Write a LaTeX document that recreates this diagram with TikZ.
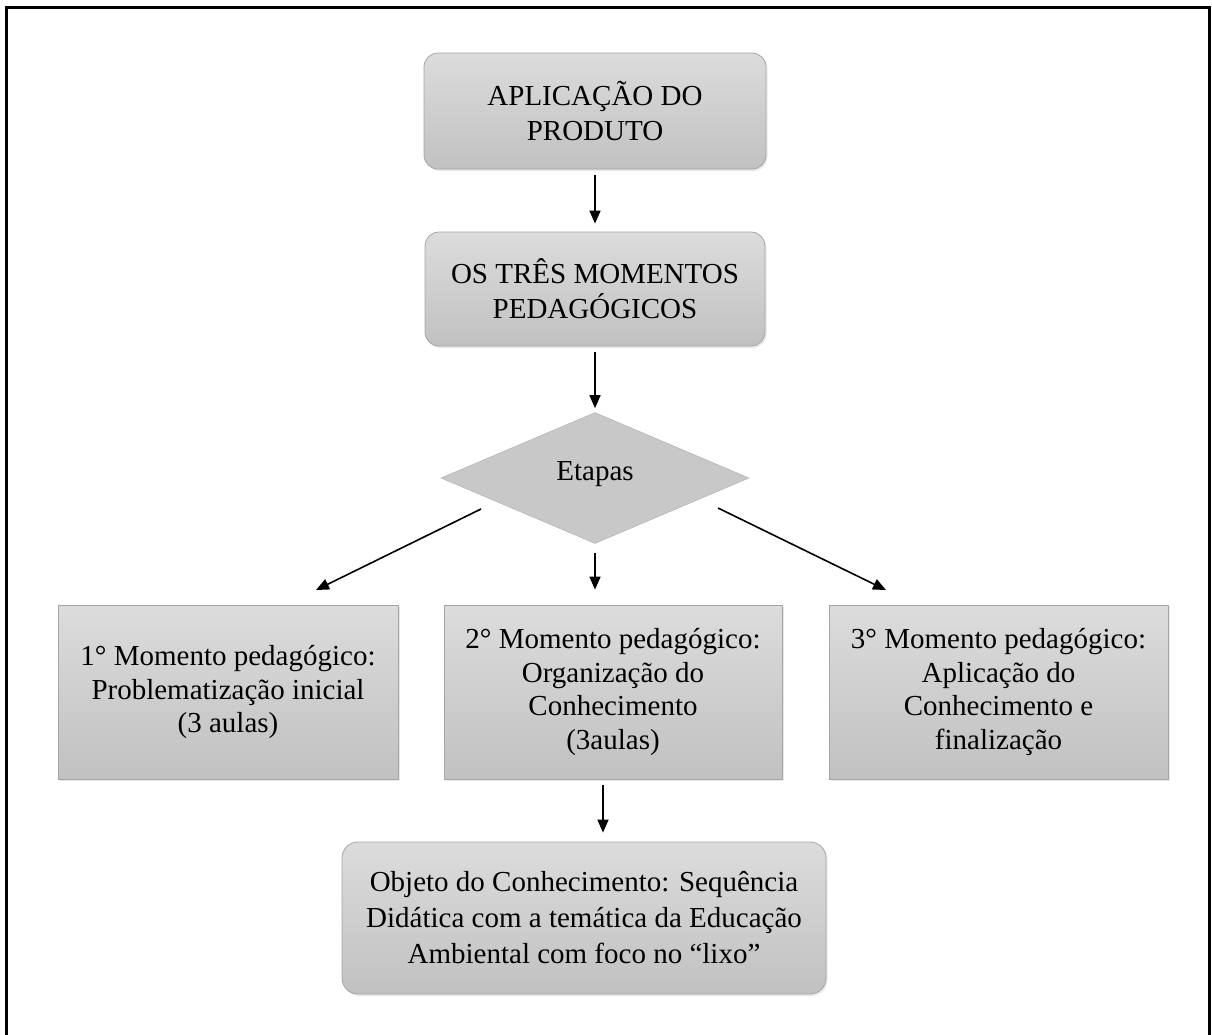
\documentclass[tikz,border=0pt]{standalone}
\usepackage{fontspec}
\setmainfont{Liberation Serif}
\usetikzlibrary{arrows.meta,shapes.geometric,shadows}
\definecolor{boxtop}{RGB}{220,220,220}
\definecolor{boxbot}{RGB}{193,193,193}
\definecolor{boxline}{RGB}{165,165,165}
\definecolor{diafill}{RGB}{200,200,200}
\begin{document}
\begin{tikzpicture}[x=1pt,y=-1pt,
  box/.style={draw=boxline, line width=0.8pt, top color=boxtop, bottom color=boxbot,
    align=center, inner sep=0pt,
    drop shadow={opacity=0.18, shadow xshift=1.5pt, shadow yshift=-2pt}},
  rbox/.style={box, rounded corners=14pt},
  topfont/.style={font=\fontsize{29}{35}\selectfont},
  midfont/.style={font=\fontsize{29}{33.5}\selectfont},
  objfont/.style={font=\fontsize{29}{36}\selectfont},
  arr/.style={-{Triangle[length=13pt,width=11pt]}, line width=1.6pt}]
\useasboundingbox (0,0) rectangle (1212,1034);
\fill[white] (0,0) rectangle (1212,1034);
% frame
\draw[line width=3pt] (6,1040) -- (6,7) -- (1209.5,7) -- (1209.5,1040);

\node[rbox, topfont, minimum width=342pt, minimum height=116pt] (b1) at (595,111) {APLICAÇÃO DO\\PRODUTO};
\node[rbox, topfont, minimum width=340pt, minimum height=114pt] (b2) at (595,289) {OS TRÊS MOMENTOS\\PEDAGÓGICOS};
\node[diamond, fill=diafill, draw=diafill!92!black, line width=0.6pt, inner sep=0pt,
  minimum width=308pt, minimum height=131pt, topfont] (d) at (595,478) {\raisebox{14pt}{Etapas}};

\node[box, midfont, minimum width=340pt, minimum height=174pt] (m1) at (228,692)
  {1° Momento pedagógico:\\Problematização inicial\\(3 aulas)};
\node[box, midfont, minimum width=338pt, minimum height=174pt] (m2) at (613,692)
  {2° Momento pedagógico:\\Organização do\\Conhecimento\\(3aulas)};
\node[box, midfont, minimum width=339pt, minimum height=174pt] (m3) at (998.5,692)
  {3° Momento pedagógico:\\Aplicação do\\Conhecimento e\\finalização};

\node[rbox, objfont, rounded corners=16pt, minimum width=484pt, minimum height=152pt] (o) at (584,918)
  {Objeto do Conhecimento: Sequência\\Didática com a temática da Educação\\Ambiental com foco no “lixo”};

\coordinate (la) at (481,509);
\coordinate (lb) at (316,590);
\coordinate (ra) at (718,508);
\coordinate (rb) at (886,590);

\draw[arr, shorten <=6pt, shorten >=8pt] (b1.south) -- (b2.north);
\draw[arr, shorten <=6pt, shorten >=4pt] (b2.south) -- (d.north);
\draw[arr, shorten <=9pt, shorten >=15pt] (d.south) -- (d.south |- m2.north);
\draw[arr] (la) -- (lb);
\draw[arr] (ra) -- (rb);
\draw[arr, shorten <=6pt, shorten >=9pt] ([xshift=-10pt]m2.south) -- ([xshift=-10pt]m2.south |- o.north);
\end{tikzpicture}
\end{document}
